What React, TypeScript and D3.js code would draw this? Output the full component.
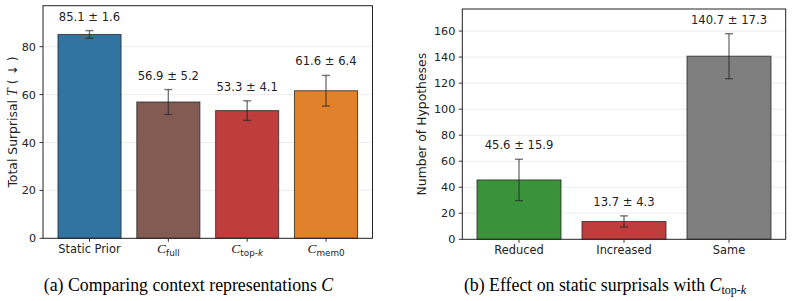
import React from "react";
import * as d3 from "d3";

// panel (a): context representations
const ctxLabels = ["Static Prior", "C_full", "C_top-k", "C_mem0"];
const ctxMeans = [85.1, 56.9, 53.3, 61.6];
const ctxErrs = [1.6, 5.2, 4.1, 6.4];
const ctxColors = ["#3274a1", "#845b53", "#c03d3e", "#e1812c"];
const ctxTicks = [0, 20, 40, 60, 80];

// panel (b): effect on static surprisals
const effLabels = ["Reduced", "Increased", "Same"];
const effMeans = [45.6, 13.7, 140.7];
const effErrs = [15.9, 4.3, 17.3];
const effColors = ["#3a923a", "#c03d3e", "#7f7f7f"];
const effTicks = [0, 20, 40, 60, 80, 100, 120, 140, 160];

const SANS = "'DejaVu Sans', sans-serif";
const SERIF = "'Liberation Serif', 'Times New Roman', serif";
const INK = "#222";

type PanelProps = {
  labels: string[];
  means: number[];
  errs: number[];
  colors: string[];
  ticks: number[];
  box: { left: number; right: number; top: number; bottom: number };
  yLabel: React.ReactNode;
  yLabelX: number;
};

// "C_xxx" labels are drawn as a script-style C with a subscript
function TickLabel({ text, x, y }: { text: string; x: number; y: number }) {
  if (!text.startsWith("C_")) {
    return (
      <text x={x} y={y} textAnchor="middle" fontFamily={SANS} fontSize={11.4} fill={INK}>
        {text}
      </text>
    );
  }
  const sub = text.slice(2);
  const italicK = sub.endsWith("-k");
  return (
    <text x={x} y={y} textAnchor="middle" fill={INK}>
      <tspan fontFamily={SERIF} fontStyle="italic" fontSize={13.5}>C</tspan>
      <tspan fontFamily={SANS} fontSize={8.8} dy={2.5}>
        {italicK ? sub.slice(0, -1) : sub}
      </tspan>
      {italicK && (
        <tspan fontFamily={SANS} fontSize={8.8} fontStyle="italic">k</tspan>
      )}
    </text>
  );
}

function Panel({ labels, means, errs, colors, ticks, box, yLabel, yLabelX }: PanelProps) {
  const n = labels.length;
  // bars span [-0.4, n-0.6], plus a 5% margin on each side
  const span = n - 1 + 0.8;
  const pad = span * 0.05;
  const x = d3.scaleLinear().domain([-0.4 - pad, n - 0.6 + pad]).range([box.left, box.right]);
  const yMax = d3.max(means.map((m, i) => m + errs[i]))! * 1.12;
  const y = d3.scaleLinear().domain([0, yMax]).range([box.bottom, box.top]);
  const bw = x(0.8) - x(0);
  const cap = 4;

  return (
    <g>
      {/* grid */}
      {ticks.filter((t) => t > 0).map((t) => (
        <line key={t} x1={box.left} x2={box.right} y1={y(t)} y2={y(t)} stroke="#ebebeb" strokeWidth={0.9} />
      ))}
      {/* bars */}
      {means.map((m, i) => (
        <rect
          key={i}
          x={x(i) - bw / 2}
          y={y(m)}
          width={bw}
          height={y(0) - y(m)}
          fill={colors[i]}
          stroke="rgba(40,40,40,0.8)"
          strokeWidth={1}
        />
      ))}
      {/* error bars */}
      {means.map((m, i) => {
        const cx = x(i);
        const lo = y(m - errs[i]);
        const hi = y(m + errs[i]);
        return (
          <g key={i} stroke="rgba(35,35,35,0.62)" strokeWidth={1.4}>
            <line x1={cx} x2={cx} y1={lo} y2={hi} />
            <line x1={cx - cap} x2={cx + cap} y1={lo} y2={lo} />
            <line x1={cx - cap} x2={cx + cap} y1={hi} y2={hi} />
          </g>
        );
      })}
      {/* value labels */}
      {means.map((m, i) => (
        <text
          key={i}
          x={x(i)}
          y={y(m + errs[i]) - 10}
          textAnchor="middle"
          fontFamily={SANS}
          fontSize={11.6}
          fill={INK}
        >
          {`${m.toFixed(1)} ± ${errs[i].toFixed(1)}`}
        </text>
      ))}
      {/* frame */}
      <rect
        x={box.left}
        y={box.top}
        width={box.right - box.left}
        height={box.bottom - box.top}
        fill="none"
        stroke={INK}
        strokeWidth={1}
      />
      {/* y axis */}
      {ticks.map((t) => (
        <g key={t}>
          <line x1={box.left - 3.5} x2={box.left} y1={y(t)} y2={y(t)} stroke={INK} strokeWidth={0.9} />
          <text
            x={box.left - 7}
            y={y(t)}
            dy="0.36em"
            textAnchor="end"
            fontFamily={SANS}
            fontSize={11.2}
            fill={INK}
          >
            {t}
          </text>
        </g>
      ))}
      {/* x axis */}
      {labels.map((l, i) => (
        <g key={l}>
          <line x1={x(i)} x2={x(i)} y1={box.bottom} y2={box.bottom + 3.5} stroke={INK} strokeWidth={0.9} />
          <TickLabel text={l} x={x(i)} y={box.bottom + 15} />
        </g>
      ))}
      <text
        transform={`translate(${yLabelX}, ${(box.top + box.bottom) / 2}) rotate(-90)`}
        textAnchor="middle"
        dy="0.35em"
        fontFamily={SANS}
        fontSize={12.4}
        fill={INK}
      >
        {yLabel}
      </text>
    </g>
  );
}

export default function App() {
  return (
    <svg
      width={793}
      height={301}
      style={{ position: "absolute", left: 0, top: 0, background: "#fff" }}
    >
      <Panel
        labels={ctxLabels}
        means={ctxMeans}
        errs={ctxErrs}
        colors={ctxColors}
        ticks={ctxTicks}
        box={{ left: 43, right: 372.5, top: 5.7, bottom: 238.3 }}
        yLabelX={12.5}
        yLabel={
          <>
            Total Surprisal{" "}
            <tspan fontFamily={SERIF} fontStyle="italic" fontSize={14}>T</tspan>
            {" ( ↓ )"}
          </>
        }
      />
      <Panel
        labels={effLabels}
        means={effMeans}
        errs={effErrs}
        colors={effColors}
        ticks={effTicks}
        box={{ left: 462.3, right: 785.7, top: 9, bottom: 239.3 }}
        yLabelX={422}
        yLabel="Number of Hypotheses"
      />
      <text x={188.5} y={290.5} textAnchor="middle" fontFamily={SERIF} fontSize={17.8} fill="#000">
        (a) Comparing context representations{" "}
        <tspan fontStyle="italic">C</tspan>
      </text>
      <text x={605} y={290.5} textAnchor="middle" fontFamily={SERIF} fontSize={17.8} fill="#000">
        (b) Effect on static surprisals with{" "}
        <tspan fontStyle="italic">C</tspan>
        <tspan fontSize={12} dy={3}>top-</tspan>
        <tspan fontSize={12} fontStyle="italic">k</tspan>
      </text>
    </svg>
  );
}
